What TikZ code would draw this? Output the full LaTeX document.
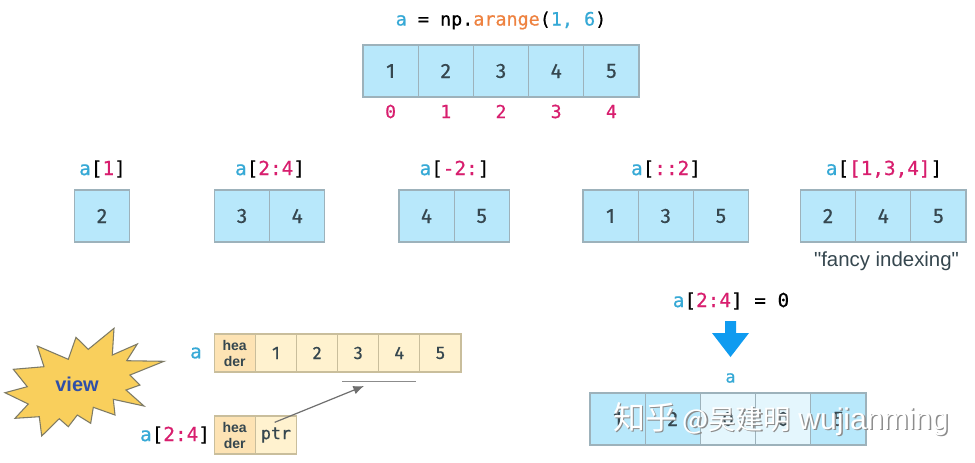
\documentclass[tikz,border=0pt]{standalone}
\usepackage{fontspec}
\usetikzlibrary{arrows.meta}
\setmainfont{Fira Sans}[FakeBold=0.5]
\newfontfamily\codefont{DejaVu Sans Mono}[FakeBold=0.6]
\newfontfamily\hdrfont{Liberation Sans}
\newfontfamily\cjkfont{Noto Sans CJK SC}
\definecolor{cellblue}{HTML}{B8E8FB}
\definecolor{celllight}{HTML}{E4F6FD}
\definecolor{cellline}{HTML}{9DB2BB}
\definecolor{cellyellow}{HTML}{FFF2CF}
\definecolor{cellheader}{HTML}{FDE3B4}
\definecolor{yelline}{HTML}{C9BE9C}
\definecolor{digit}{HTML}{36474F}
\definecolor{codeblue}{HTML}{36A9D6}
\definecolor{codepink}{HTML}{D81E6E}
\definecolor{codeorange}{HTML}{EE8240}
\definecolor{starfill}{HTML}{F9CF5C}
\definecolor{starline}{HTML}{7E7B66}
\definecolor{viewblue}{HTML}{2F4FA8}
\definecolor{bigarrow}{HTML}{0F9BF0}
\definecolor{thingray}{HTML}{6F6F6F}
\newcommand{\A}{\textcolor{codeblue}{a}}
\newcommand{\Pk}[1]{\textcolor{codepink}{#1}}
\newcommand{\WM}{{\fontsize{24}{24}\selectfont 知乎}\hspace{4pt}{\fontsize{20.5}{24}\selectfont @吴建明}\hspace{6pt}{\hdrfont\fontsize{22.5}{24}\selectfont wujianming}}
\tikzset{
  x=0.75pt,y=-0.75pt,
  cellbase/.style={draw,line width=0.9pt,inner sep=0pt,outer sep=0pt,text=digit,font=\fontsize{15.5}{15.5}\selectfont},
  bluecell/.style={cellbase,draw=cellline,fill=cellblue,minimum width=41.4pt,minimum height=39pt},
  lightcell/.style={bluecell,fill=celllight},
  yelcell/.style={cellbase,draw=yelline,fill=cellyellow,minimum width=30.8pt,minimum height=28.5pt,font=\fontsize{13.5}{13.5}\selectfont},
  hdrcell/.style={yelcell,fill=cellheader,align=center,font=\hdrfont\bfseries\fontsize{10.5}{12}\selectfont},
  code/.style={inner sep=0pt,font=\codefont\fontsize{14.5}{14.5}\selectfont},
  mark text/.style={code,text=codepink,font=\codefont\fontsize{13.5}{13.5}\selectfont},
}
\begin{document}
\begin{tikzpicture}
\useasboundingbox[fill=white] (0,0) rectangle (975,462);
% top
\node[code,font=\codefont\fontsize{13.8}{13.8}\selectfont] (title) at (501,20.5) {\A{} = np.\textcolor{codeorange}{arange}(\textcolor{codeblue}{1, 6})};
\foreach \n/\x in {1/390.6,2/445.8,3/501,4/556.2,5/611.4}{
  \node[bluecell] (t\n) at (\x,71) {\n};
}
\foreach \n/\v in {1/0,2/1,3/2,4/3,5/4}{
  \node[mark text] (i\n) at ([yshift=-40.5*0.75pt]t\n.center) {\v};
}
% slices
\node[bluecell] (s1) at (102,216) {2};
\node[code] (l1) at (102.5,169) {\A[\Pk{1}]};
\node[bluecell] (s2a) at (242,216) {3};
\node[bluecell] (s2b) at (297.2,216) {4};
\node[code] (l2) at (270,169) {\A[\Pk{2:4}]};
\node[bluecell] (s3a) at (426.5,216) {4};
\node[bluecell] (s3b) at (481.7,216) {5};
\node[code] (l3) at (454.5,169) {\A[\Pk{-2:}]};
\node[bluecell] (s4a) at (610.5,216) {1};
\node[bluecell] (s4b) at (665.7,216) {3};
\node[bluecell] (s4c) at (720.9,216) {5};
\node[code] (l4) at (666,169) {\A[\Pk{::2}]};
\node[bluecell] (s5a) at (828,216) {2};
\node[bluecell] (s5b) at (883.2,216) {4};
\node[bluecell] (s5c) at (938.4,216) {5};
\node[code] (l5) at (884,169) {\A[\Pk{[1,3,4]}]};
\node[inner sep=0pt,text=digit,font=\hdrfont\fontsize{15.3}{15.3}\selectfont] (fancy) at (886.5,261) {"fancy indexing"};
% assignment
\node[code] (asg) at (731,301) {\A[\Pk{2:4}] = 0};
\fill[bigarrow] (725,321) -- (736,321) -- (736,333) -- (749,333) -- (730.5,357) -- (712,333) -- (725,333) -- cycle;
\node[code,font=\codefont\fontsize{12.5}{12.5}\selectfont] (al) at (730.5,378) {\A};
\node[bluecell] (b1) at (617.6,419) {1};
\node[bluecell] (b2) at (672.8,419) {2};
\node[lightcell] (b3) at (728,419) {0};
\node[lightcell] (b4) at (783.2,419) {0};
\node[bluecell] (b5) at (838.4,419) {5};
% star
\filldraw[draw=starline,fill=starfill,line width=0.8pt]
 (114,328.3) -- (112.3,355) -- (137.3,344) -- (126.7,360.7) -- (164,361.3) -- (130,375) -- (140,385) -- (126,390) -- (144,406) -- (113.3,399.3) -- (115,415) -- (93.3,407.3) -- (90.7,423.3) -- (77.3,415) -- (68.3,426.7) -- (59.3,418.7) -- (41.7,436) -- (39.3,416.7) -- (15,418.3) -- (28.3,404) -- (5,392.7) -- (27.3,386.7) -- (13.3,369.3) -- (44,366.7) -- (37.3,346) -- (68.3,359.3) -- (76,337.3) -- (88.3,349.3) -- cycle;
\node[inner sep=0pt,text=viewblue,font=\hdrfont\bfseries\fontsize{15}{15}\selectfont] (view) at (77,384) {view};
% view arrays
\node[code] (va) at (196,353) {\A};
\node[hdrcell] (h0) at (234.7,353) {hea\\der};
\foreach \n/\x in {1/276,2/317.1,3/358.2,4/399.3,5/440.4}{
  \node[yelcell] (y\n) at (\x,353) {\n};
}
\node[code] (vb) at (175,435) {\A[\Pk{2:4}]};
\node[hdrcell] (h1) at (234.7,435) {hea\\der};
\node[yelcell,font=\codefont\fontsize{12.5}{12.5}\selectfont] (p1) at (276,435) {ptr};
\coordinate (ul) at (342,381.5);
\coordinate (ur) at (416,381.5);
\coordinate (pstart) at ([shift={(-1pt,9.5pt)}]p1.center);
\coordinate (ptip) at (364,386);
\draw[draw=thingray!80,line width=1pt] (ul) -- (ur);
\draw[draw=thingray,line width=0.9pt,-{Latex[length=8pt,width=6.5pt]}] (pstart) -- (ptip);
% watermark
\node[inner sep=0pt,anchor=west,text=black!45,font=\cjkfont] (wms) at (614.5,420.5) {\WM};
\node[inner sep=0pt,anchor=west,text=white,font=\cjkfont] (wm) at (613,419) {\WM};
\end{tikzpicture}
\end{document}
